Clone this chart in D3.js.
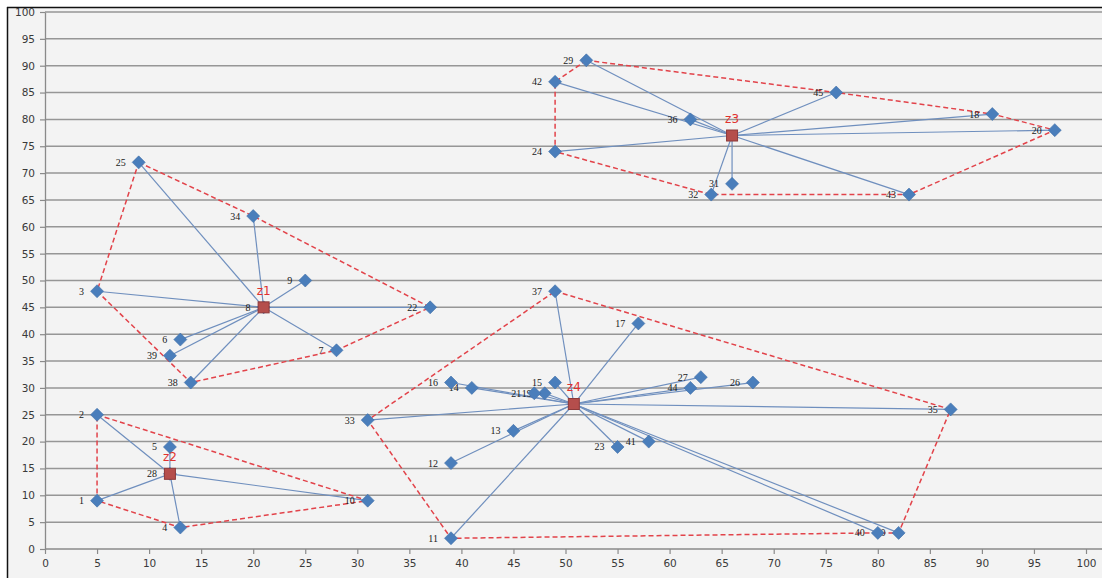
<!DOCTYPE html>
<html>
<head>
<meta charset="utf-8">
<script src="https://cdn.jsdelivr.net/npm/d3@7/dist/d3.min.js"></script>
<style>
  html, body { margin: 0; padding: 0; background: #ffffff; }
  svg { display: block; }
</style>
</head>
<body>
<svg id="chart" width="1102" height="578"></svg>
<script>
// Sample points: id, coordinates and cluster membership
const pointIds = [1,2,3,4,5,6,7,8,9,10,11,12,13,14,15,16,17,18,19,20,21,22,23,24,25,26,27,28,29,30,31,32,33,34,35,36,37,38,39,40,41,42,43,44,45];
const pointX   = [5,5,5,13,12,13,28,21,25,31,39,39,45,41,49,39,57,91,48,97,47,37,55,49,9,68,63,12,52,82,66,64,31,20,87,62,49,14,12,80,58,49,83,62,76];
const pointY   = [9,25,48,4,19,39,37,45,50,9,2,16,22,30,31,31,42,81,29,78,29,45,19,74,72,31,32,14,91,3,68,66,24,62,26,80,48,31,36,3,20,87,66,30,85];
const pointCluster = [2,2,1,2,2,1,1,1,1,2,4,4,4,4,4,4,4,3,4,3,4,1,4,3,1,4,4,2,3,4,3,3,4,1,4,3,4,1,1,4,4,3,3,4,3];

// Cluster centres
const centerNames = ["z1","z2","z3","z4"];
const centerX = [21, 12, 66, 50.8];
const centerY = [45, 14, 77, 27];

// Boundary of each cluster, listed by point id
const hullIds = [
  [25,34,22,7,38,3,25],
  [2,10,4,1,2],
  [29,45,18,20,43,32,24,42,29],
  [37,35,30,40,11,33,37]
];

// Axis ticks
const xTicks = d3.range(0, 101, 5);
const yTicks = d3.range(0, 101, 5);

const W = 1102, H = 578;
const svg = d3.select("#chart");

const x = d3.scaleLinear().domain([0, 100]).range([45, 1086]);
const y = d3.scaleLinear().domain([0, 100]).range([549, 12]);

// chart area background and frame
svg.append("rect").attr("x", 7).attr("y", 7).attr("width", W - 7).attr("height", H - 7)
  .attr("fill", "#f3f3f3");
svg.append("line").attr("x1", 7).attr("x2", W).attr("y1", 7.5).attr("y2", 7.5)
  .attr("stroke", "#111").attr("stroke-width", 1.5);
svg.append("line").attr("x1", 7.5).attr("x2", 7.5).attr("y1", 7).attr("y2", H)
  .attr("stroke", "#111").attr("stroke-width", 1.5);

// horizontal gridlines
svg.append("g").selectAll("line").data(yTicks.filter(d => d > 0)).join("line")
  .attr("x1", x(0)).attr("x2", W)
  .attr("y1", d => y(d)).attr("y2", d => y(d))
  .attr("stroke", "#969696").attr("stroke-width", 1.5);

// axes
const axisFont = "'DejaVu Sans', Verdana, sans-serif";
const gx = svg.append("g").attr("transform", `translate(0,${y(0)})`)
  .call(d3.axisBottom(x).tickValues(xTicks).tickSize(5).tickPadding(6).tickSizeOuter(0));
const gy = svg.append("g").attr("transform", `translate(${x(0)},0)`)
  .call(d3.axisLeft(y).tickValues(yTicks).tickSize(5).tickPadding(5).tickSizeOuter(0));
[gx, gy].forEach(g => {
  g.select(".domain").attr("stroke", "#8a8a8a").attr("stroke-width", 1.3);
  g.selectAll(".tick line").attr("stroke", "#8a8a8a").attr("stroke-width", 1.2);
  g.selectAll(".tick text").attr("fill", "#3a3a3a")
    .style("font-family", axisFont).style("font-size", "10.5px");
});
gx.select(".domain").attr("d", `M${x(0)},0H${W}`);

const points = pointIds.map((id, i) => ({ id, x: pointX[i], y: pointY[i], c: pointCluster[i] }));
const byId = new Map(points.map(p => [p.id, p]));
const centers = centerNames.map((n, i) => ({ name: n, x: centerX[i], y: centerY[i] }));

// spokes from each centre to its members
svg.append("g").selectAll("line").data(points).join("line")
  .attr("x1", d => x(centers[d.c - 1].x)).attr("y1", d => y(centers[d.c - 1].y))
  .attr("x2", d => x(d.x)).attr("y2", d => y(d.y))
  .attr("stroke", "#6f8fbe").attr("stroke-width", 1.2);

// dashed cluster boundaries
const hullLine = d3.line().x(d => x(d.x)).y(d => y(d.y));
svg.append("g").selectAll("path").data(hullIds).join("path")
  .attr("d", ids => hullLine(ids.map(id => byId.get(id))))
  .attr("fill", "none").attr("stroke", "#e2434a").attr("stroke-width", 1.5)
  .attr("stroke-dasharray", "5,3");

// point labels
svg.append("g").selectAll("text").data(points).join("text")
  .attr("x", d => x(d.x) - 13).attr("y", d => y(d.y)).attr("dy", "0.35em")
  .attr("text-anchor", "end")
  .style("font-family", "'Liberation Serif', 'Times New Roman', serif")
  .style("font-size", "10px").attr("fill", "#1a1a1a")
  .text(d => d.id);

// diamond markers
const diamond = "M0,-6.5L6.5,0L0,6.5L-6.5,0Z";
svg.append("g").selectAll("path").data(points).join("path")
  .attr("transform", d => `translate(${x(d.x)},${y(d.y)})`)
  .attr("d", diamond).attr("fill", "#4a7ebb").attr("stroke", "#3f6fa8").attr("stroke-width", 0.6);

// centre markers and names
svg.append("g").selectAll("rect").data(centers).join("rect")
  .attr("x", d => x(d.x) - 5.5).attr("y", d => y(d.y) - 5.5)
  .attr("width", 11).attr("height", 11)
  .attr("fill", "#b54e4c").attr("stroke", "#8e3a3a").attr("stroke-width", 1);
svg.append("g").selectAll("text").data(centers).join("text")
  .attr("x", d => x(d.x)).attr("y", d => y(d.y) - 17).attr("dy", "0.35em")
  .attr("text-anchor", "middle")
  .style("font-family", "'DejaVu Sans', Verdana, sans-serif")
  .style("font-size", "12px").attr("fill", "#e0322f")
  .text(d => d.name);
</script>
</body>
</html>
